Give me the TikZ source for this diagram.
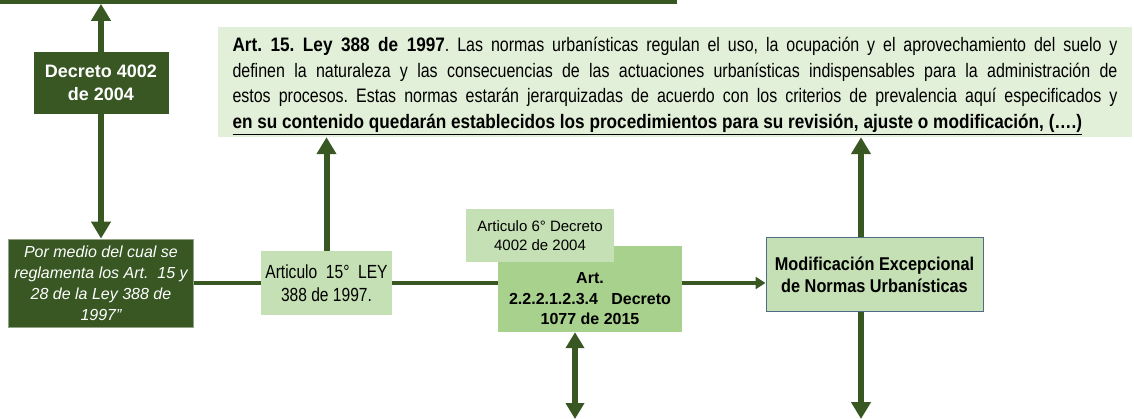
\documentclass[tikz,border=0pt]{standalone}
\usepackage{fontspec}
\setmainfont[FakeStretch=0.82, BoldFeatures={FakeStretch=0.881}]{Liberation Sans}
\newfontfamily\arialnormal{Liberation Sans}
\usetikzlibrary{arrows.meta}
\definecolor{verdeosc}{HTML}{385723}
\definecolor{verdecla}{HTML}{C5E0B4}
\definecolor{verdemed}{HTML}{A9D18E}
\definecolor{verdefon}{HTML}{E2F0D9}
\definecolor{bordemod}{HTML}{4F6B86}
\frenchspacing
\begin{document}
\begin{tikzpicture}[x=1pt,y=-1pt,
    caja/.style={rectangle, inner sep=0pt, align=center},
    flecha/.style={verdeosc, line width=6pt, -{Triangle[width=19pt,length=17pt]}},
    flechados/.style={verdeosc, line width=5.5pt, {Triangle[width=18pt,length=16pt]}-{Triangle[width=18pt,length=16pt]}},
    flechamed/.style={verdeosc, line width=3.5pt, -{Triangle[width=12pt,length=10pt]}},
    linea/.style={verdeosc, line width=3.5pt}]
    \useasboundingbox (0,0) rectangle (1134,419);
    % cajas
    \node [fill=verdeosc, minimum width=677, minimum height=3.5, inner sep=0pt, anchor=north west] (barra) at (0,0) {};
    \node [caja, fill=verdeosc, text=white, minimum width=135, minimum height=62, font=\arialnormal\fontsize{18}{23}\bfseries] (decreto) at (101,83) {Decreto 4002\\de 2004};
    \node [caja, fill=verdeosc, draw=verdeosc!55!white, line width=0.8pt, text=white, minimum width=185, minimum height=88, font=\arialnormal\fontsize{16}{21}\itshape] (pormedio) at (101,283) {Por medio del cual se\\reglamenta los Art.~ 15 y\\28 de la Ley 388 de\\1997”};
    \node [caja, fill=verdecla, minimum width=131, minimum height=64, font=\fontsize{19}{23}\selectfont] (art15) at (326.5,283) {Articulo~ 15°~ LEY\\388 de 1997.};
    \node [caja, fill=verdefon, minimum width=914, minimum height=110] (leyfondo) at (675,82) {};
    \node [caja, text width=885, align=justify, font=\fontsize{19.5}{25.6}\selectfont] (ley) at (675,86) {\textbf{Art. 15. Ley 388 de 1997}. Las normas urbanísticas regulan el uso, la ocupación y el aprovechamiento del suelo y\linebreak definen la naturaleza y las consecuencias de las actuaciones urbanísticas indispensables para la administración de\linebreak estos procesos. Estas normas estarán jerarquizadas de acuerdo con los criterios de prevalencia aquí especificados y\linebreak \underline{\textbf{en su contenido quedarán establecidos los procedimientos para su revisión, ajuste o modificación, (….)}}};
    \node [caja, fill=verdemed, minimum width=184, minimum height=86] (artdec) at (590,289) {};
    \node [caja, font=\arialnormal\fontsize{16}{20.5}\bfseries] (artdectxt) at (590,299) {Art.\\2.2.2.1.2.3.4~~ Decreto\\1077 de 2015};
    \node [caja, fill=verdecla, minimum width=148, minimum height=53, font=\arialnormal\fontsize{15}{18.5}\selectfont] (artseis) at (540,235.5) {Articulo 6° Decreto\\4002 de 2004};
    \node [caja, fill=verdecla, draw=bordemod, line width=1pt, minimum width=217, minimum height=74, font=\fontsize{18.5}{22}\bfseries] (modif) at (874.5,275) {Modificación Excepcional\\de Normas Urbanísticas};
    \coordinate (ejemod) at (861,0);
    \coordinate (finmod) at (861,419);
    \coordinate (findec) at (575,419);
    % conectores
    \draw [flecha] (decreto.north) -- (decreto.north |- barra.south);
    \draw [flecha] (decreto.south) -- (pormedio.north);
    \draw [linea] (pormedio.east) -- (art15.west);
    \draw [flecha] (art15.north) -- (art15.north |- leyfondo.south);
    \draw [linea] (art15.east) -- (art15.east -| artdec.west);
    \draw [flechamed] (art15.east -| artdec.east) -- (art15.east -| modif.west);
    \draw [flechados] (artdec.south -| findec) -- (findec);
    \draw [flecha] (modif.north -| ejemod) -- (leyfondo.south -| ejemod);
    \draw [flecha] (modif.south -| finmod) -- (finmod);
\end{tikzpicture}
\end{document}
